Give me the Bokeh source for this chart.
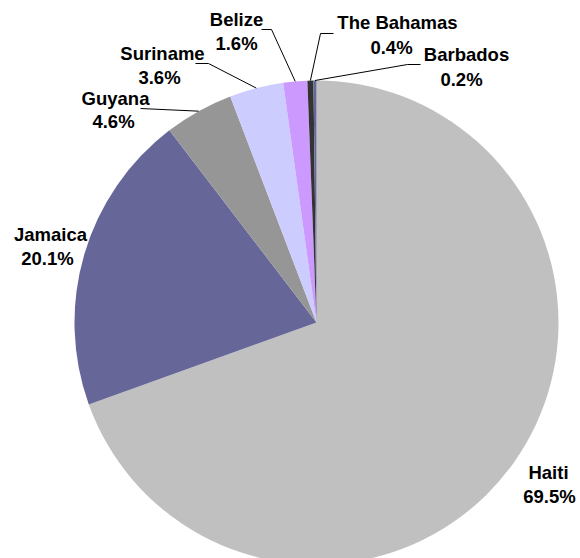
import math
from bokeh.plotting import figure
from bokeh.models import Range1d
from bokeh.core.properties import value
from bokeh.embed import file_html
from bokeh.resources import INLINE

# ---- data ----
countries = ["Haiti", "Jamaica", "Guyana", "Suriname", "Belize", "The Bahamas", "Barbados"]
shares = [69.5, 20.1, 4.6, 3.6, 1.6, 0.4, 0.2]
pct_labels = ["69.5%", "20.1%", "4.6%", "3.6%", "1.6%", "0.4%", "0.2%"]
colors = ["#C0C0C0", "#666699", "#969696", "#CCCCFF", "#CC99FF", "#333333", "#666699"]

W, H = 580, 558
CX, CY, R = 316, 322, 242  # screen coords of pie centre / radius

def sy(y):
    return H - y

p = figure(width=W, height=H, output_backend="svg", toolbar_location=None,
           x_range=Range1d(0, W), y_range=Range1d(0, H), min_border=0)
p.axis.visible = False
p.grid.visible = False
p.outline_line_color = None
p.background_fill_color = "white"
p.border_fill_color = "white"

total = sum(shares)
starts, ends, mids = [], [], []
cum = 0.0
for s in shares:
    a0 = math.pi / 2 - 2 * math.pi * cum / total
    cum += s
    a1 = math.pi / 2 - 2 * math.pi * cum / total
    starts.append(a0)
    ends.append(a1)
    mids.append((a0 + a1) / 2)

p.wedge(x=[CX] * len(shares), y=[sy(CY)] * len(shares), radius=R, radius_units="screen",
        start_angle=starts, end_angle=ends, direction="clock",
        fill_color=colors, line_color=None)

def edge(i):
    a = mids[i]
    return CX + R * math.cos(a), sy(CY) + R * math.sin(a)

# label layout (screen coords): name centre, pct centre, leader path start points
layout = {
    "Haiti": ((548, 472), (549, 496), None),
    "Jamaica": ((50, 234), (47, 258), None),
    "Guyana": ((115, 98), (113, 121), [(140, 108)]),
    "Suriname": ((162, 53), (159, 77), [(195, 63), (208, 63)]),
    "Belize": ((236, 19), (236, 43), [(261, 29), (271, 29)]),
    "The Bahamas": ((397, 22), (391, 47), [(333, 33), (320, 33)]),
    "Barbados": ((466, 54), (461, 79), [(420, 64), (407, 64)]),
}

font = value("Liberation Sans")
for i, name in enumerate(countries):
    (nx, ny), (px, py), lead = layout[name]
    p.text(x=[nx, px], y=[sy(ny), sy(py)], text=[name, pct_labels[i]],
           text_font=font, text_font_style="bold", text_font_size="18.5px",
           text_align="center", text_baseline="middle", text_color="black")
    if lead:
        ex, ey = edge(i)
        xs = [x for x, _ in lead] + [ex]
        ys = [sy(y) for _, y in lead] + [ey]
        p.line(xs, ys, line_color="black", line_width=1)

open("out.html", "w").write(file_html(p, INLINE))
